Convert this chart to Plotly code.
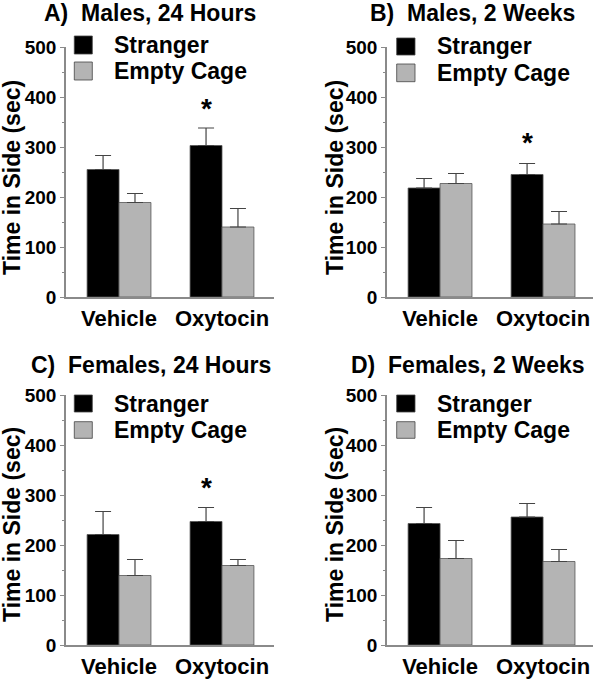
import plotly.graph_objects as go

W, H = 595, 680

categories = ["Vehicle", "Oxytocin"]
series_names = ["Stranger", "Empty Cage"]

panel_titles = ["A)  Males, 24 Hours", "B)  Males, 2 Weeks",
                "C)  Females, 24 Hours", "D)  Females, 2 Weeks"]

a_stranger = [255, 303]
a_stranger_err = [28, 35]
a_empty = [189, 140]
a_empty_err = [18, 37]

b_stranger = [218, 245]
b_stranger_err = [19, 22]
b_empty = [227, 146]
b_empty_err = [20, 25]

c_stranger = [221, 247]
c_stranger_err = [46, 28]
c_empty = [139, 159]
c_empty_err = [32, 12]

d_stranger = [243, 256]
d_stranger_err = [32, 27]
d_empty = [173, 167]
d_empty_err = [36, 24]

# significance markers: (category, y value) per panel
a_star = ("Oxytocin", 376)
b_star = ("Oxytocin", 310)
c_star = ("Oxytocin", 316)
d_star = None

y_ticks = [0, 100, 200, 300, 400, 500]
y_title = "Time in Side (sec)"

BLACK = "#000000"
GREY = "#b4b4b4"
AXIS = "#8a8a8a"
FONT = "Liberation Sans, Arial, sans-serif"

panels = [
    dict(s=a_stranger, se=a_stranger_err, e=a_empty, ee=a_empty_err, star=a_star,
         px=(66, 274), py=(47, 297), xr=(-0.515, 1.505),
         title=(150, 13), ytitle=(12, 178),
         leg_sq_x=(74.3, 92.3), leg_rows=((36, 54), (62, 80)), leg_tx=112),
    dict(s=b_stranger, se=b_stranger_err, e=b_empty, ee=b_empty_err, star=b_star,
         px=(387, 593), py=(47, 297), xr=(-0.515, 1.485),
         title=(472, 13), ytitle=(335, 178),
         leg_sq_x=(396.7, 415), leg_rows=((38, 55), (64, 81.7)), leg_tx=435),
    dict(s=c_stranger, se=c_stranger_err, e=c_empty, ee=c_empty_err, star=c_star,
         px=(66, 274), py=(395, 645), xr=(-0.515, 1.505),
         title=(151, 365), ytitle=(12, 525),
         leg_sq_x=(74.3, 92.3), leg_rows=((395, 412), (421.7, 438.3)), leg_tx=112),
    dict(s=d_stranger, se=d_stranger_err, e=d_empty, ee=d_empty_err, star=d_star,
         px=(387, 593), py=(395, 645), xr=(-0.515, 1.485),
         title=(468, 365), ytitle=(335, 525),
         leg_sq_x=(396.7, 415), leg_rows=((395, 412), (421.7, 438.3)), leg_tx=435),
]


def fx(p):
    return p / W


def fy(p):
    return 1 - p / H


fig = go.Figure()
shapes = []
annotations = []

for i, p in enumerate(panels):
    n = "" if i == 0 else str(i + 1)
    xa, ya = "x" + n, "y" + n
    for name, vals, errs, col in ((series_names[0], p["s"], p["se"], BLACK),
                                  (series_names[1], p["e"], p["ee"], GREY)):
        fig.add_trace(go.Bar(
            x=categories, y=vals, name=name, xaxis=xa, yaxis=ya,
            marker=dict(color=col, line=dict(color="#555555", width=0.8)),
            error_y=dict(type="data", symmetric=False, array=errs,
                         arrayminus=[0] * len(errs), color="#444444",
                         thickness=1.2, width=8),
            showlegend=False,
        ))
    fig.update_layout(**{
        "xaxis" + n: dict(domain=[fx(p["px"][0]), fx(p["px"][1])], anchor=ya,
                          range=list(p["xr"]), showline=True, linecolor=AXIS,
                          linewidth=1.5, ticks="", showgrid=False, zeroline=False,
                          automargin=False, ticklabelstandoff=1,
                          tickfont=dict(family=FONT, size=22, color="black", weight="bold"),
                          fixedrange=True),
        "yaxis" + n: dict(domain=[fy(p["py"][1]), fy(p["py"][0])], anchor=xa,
                          range=[0, 500], tickvals=y_ticks, showline=True,
                          linecolor=AXIS, linewidth=1.5, ticks="outside",
                          ticklen=4, tickcolor=AXIS, tickwidth=1.2,
                          minor=dict(dtick=50, ticks="outside", ticklen=2,
                                     tickcolor=AXIS, tickwidth=1),
                          showgrid=False, zeroline=False, automargin=False,
                          tickfont=dict(family=FONT, size=19, color="black", weight="bold"),
                          fixedrange=True),
    })
    # title
    tx, ty = p["title"]
    annotations.append(dict(x=fx(tx), y=fy(ty), xref="paper", yref="paper",
                            text=panel_titles[i], showarrow=False,
                            xanchor="center", yanchor="middle",
                            font=dict(family=FONT, size=23, color="black", weight="bold")))
    # y title
    yx, yy = p["ytitle"]
    annotations.append(dict(x=fx(yx), y=fy(yy), xref="paper", yref="paper",
                            text=y_title, showarrow=False, textangle=-90,
                            xanchor="center", yanchor="middle",
                            font=dict(family=FONT, size=23, color="black", weight="bold")))
    # legend
    for (y0, y1), col, lab in zip(p["leg_rows"], (BLACK, GREY), series_names):
        shapes.append(dict(type="rect", xref="paper", yref="paper",
                           x0=fx(p["leg_sq_x"][0]), x1=fx(p["leg_sq_x"][1]),
                           y0=fy(y1), y1=fy(y0), fillcolor=col,
                           line=dict(color="#444444", width=0.8)))
        annotations.append(dict(x=fx(p["leg_tx"]), y=fy((y0 + y1) / 2),
                                xref="paper", yref="paper", text=lab,
                                showarrow=False, xanchor="left", yanchor="middle",
                                font=dict(family=FONT, size=23, color="black", weight="bold")))
    # significance star
    if p["star"] is not None:
        cat, val = p["star"]
        annotations.append(dict(x=cat, y=val, xref=xa, yref=ya, xshift=-16,
                                text="*", showarrow=False, xanchor="center",
                                yanchor="middle",
                                font=dict(family=FONT, size=28, color="black", weight="bold")))

fig.update_layout(
    width=W, height=H, margin=dict(l=0, r=0, t=0, b=0),
    paper_bgcolor="white", plot_bgcolor="white",
    barmode="group", bargap=0.38, bargroupgap=0,
    shapes=shapes, annotations=annotations, showlegend=False,
    font=dict(family=FONT),
)

fig.write_html("out.html", config={"displayModeBar": False},
               post_script="document.body.style.margin='0';document.body.style.padding='0';")
